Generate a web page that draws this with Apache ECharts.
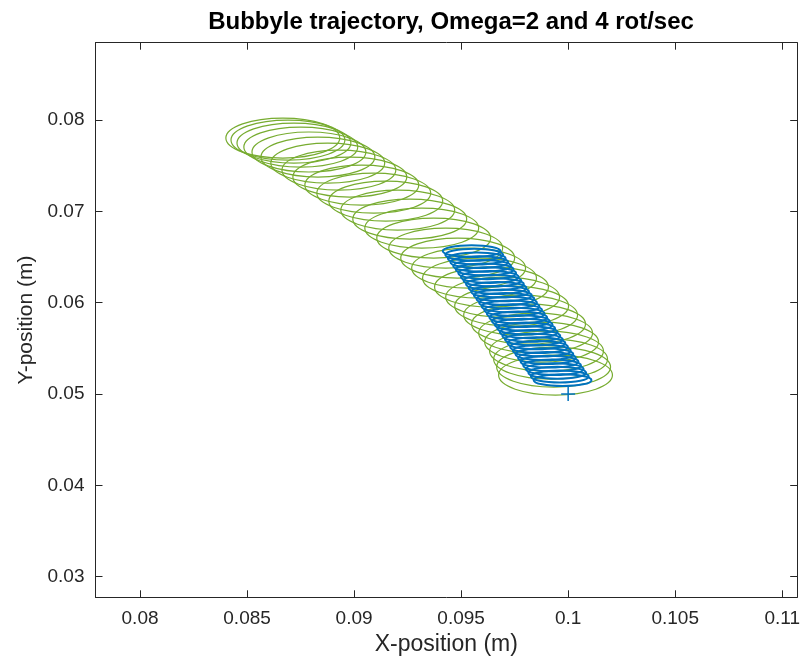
<!DOCTYPE html>
<html>
<head>
<meta charset="utf-8">
<script src="https://cdn.jsdelivr.net/npm/echarts@6/dist/echarts.min.js"></script>
<style>
  html, body { margin: 0; padding: 0; background: #ffffff; }
  #chart { width: 803px; height: 664px; }
</style>
</head>
<body>
<div id="chart"></div>
<script>
const titleText = 'Bubbyle trajectory, Omega=2 and 4 rot/sec';
const xName = 'X-position (m)';
const yName = 'Y-position (m)';

const xTicks = [0.08, 0.085, 0.09, 0.095, 0.1, 0.105, 0.11];
const yTicks = [0.03, 0.04, 0.05, 0.06, 0.07, 0.08];
const xLimits = [0.07792, 0.1107];
const yLimits = [0.02774, 0.08847];

// Omega = 2 rot/sec: centre of each loop (m), from the release point outwards
const greenX = [0.09941, 0.09932, 0.09918, 0.09899, 0.09876, 0.09848, 0.09815, 0.09778,
  0.09736, 0.09694, 0.09642, 0.09586, 0.09535, 0.09484, 0.09428, 0.09372, 0.09316,
  0.09260, 0.09204, 0.09148, 0.09092, 0.09036, 0.08980, 0.08929, 0.08877, 0.08831,
  0.08789, 0.08751, 0.08719, 0.08691, 0.08667];
const greenY = [0.05207, 0.05295, 0.05382, 0.05470, 0.05569, 0.05667, 0.05766, 0.05864,
  0.05963, 0.06061, 0.06171, 0.06269, 0.06379, 0.06489, 0.06598, 0.06708, 0.06817,
  0.06916, 0.07014, 0.07113, 0.07200, 0.07288, 0.07376, 0.07452, 0.07529, 0.07595,
  0.07650, 0.07704, 0.07748, 0.07781, 0.07803];
// half-width and half-height of one loop (m)
const greenLoop = [0.00266, 0.00219];

// Omega = 4 rot/sec: centre of each loop (m)
const blueX = [0.09974, 0.09961, 0.09949, 0.09937, 0.09925, 0.09913, 0.09901, 0.09889,
  0.09877, 0.09864, 0.09852, 0.09840, 0.09828, 0.09816, 0.09804, 0.09792, 0.09779,
  0.09767, 0.09755, 0.09743, 0.09731, 0.09719, 0.09707, 0.09695, 0.09682, 0.09670,
  0.09658, 0.09646, 0.09634, 0.09622, 0.09610, 0.09598, 0.09585, 0.09573, 0.09561, 0.09549];
const blueY = [0.05152, 0.05192, 0.05233, 0.05273, 0.05313, 0.05354, 0.05394, 0.05435,
  0.05475, 0.05515, 0.05556, 0.05596, 0.05636, 0.05677, 0.05717, 0.05758, 0.05798,
  0.05838, 0.05879, 0.05919, 0.05959, 0.06000, 0.06040, 0.06080, 0.06121, 0.06161,
  0.06202, 0.06242, 0.06282, 0.06323, 0.06363, 0.06403, 0.06444, 0.06484, 0.06525, 0.06565];
const blueLoop = [0.00135, 0.00065];

// release point of the bubble
const startX = [0.1];
const startY = [0.05];

const GREEN = '#77AC30';
const BLUE = '#0072BD';
const INK = '#262626';
const FONT = '"Liberation Sans", Arial, Helvetica, sans-serif';

function loops(xs, ys, size) {
  return xs.map((x, i) => [x, ys[i], size[0], size[1]]);
}

// each loop is an ellipse sized in metres, drawn through both axis scales
function loopRenderer(color, width) {
  return function (params, api) {
    const c = api.coord([api.value(0), api.value(1)]);
    const s = api.size([api.value(2), api.value(3)]);
    return {
      type: 'ellipse',
      shape: { cx: c[0], cy: c[1], rx: s[0], ry: s[1] },
      style: { fill: null, stroke: color, lineWidth: width }
    };
  };
}

function plusRenderer(params, api) {
  const c = api.coord([api.value(0), api.value(1)]);
  const h = 7;
  const st = { stroke: BLUE, lineWidth: 1.5 };
  return {
    type: 'group',
    children: [
      { type: 'line', shape: { x1: c[0] - h, y1: c[1], x2: c[0] + h, y2: c[1] }, style: st },
      { type: 'line', shape: { x1: c[0], y1: c[1] - h, x2: c[0], y2: c[1] + h }, style: st }
    ]
  };
}

const fmt = v => String(+(+v).toFixed(4));

function xAxisDef(pos, labelled) {
  return {
    type: 'value', position: pos, min: xLimits[0], max: xLimits[1],
    axisLine: { show: true, onZero: false, lineStyle: { color: INK, width: 1 } },
    axisTick: { show: true, inside: true, length: 7, customValues: xTicks, lineStyle: { color: INK } },
    axisLabel: { show: labelled, customValues: xTicks, formatter: fmt, color: INK, fontSize: 19, fontFamily: FONT, margin: 12 },
    splitLine: { show: false },
    name: labelled ? xName : '', nameLocation: 'middle', nameGap: 35,
    nameTextStyle: { color: INK, fontSize: 23, fontFamily: FONT }
  };
}
function yAxisDef(pos, labelled) {
  return {
    type: 'value', position: pos, min: yLimits[0], max: yLimits[1],
    axisLine: { show: true, onZero: false, lineStyle: { color: INK, width: 1 } },
    axisTick: { show: true, inside: true, length: 7, customValues: yTicks, lineStyle: { color: INK } },
    axisLabel: { show: labelled, customValues: yTicks, formatter: fmt, color: INK, fontSize: 19, fontFamily: FONT, margin: 11 },
    splitLine: { show: false },
    name: labelled ? yName : '', nameLocation: 'middle', nameGap: 58, nameRotate: 90,
    nameTextStyle: { color: INK, fontSize: 21, fontFamily: FONT }
  };
}

const chart = echarts.init(document.getElementById('chart'), null, { renderer: 'canvas' });
chart.setOption({
  backgroundColor: '#ffffff',
  animation: false,
  title: {
    text: titleText, left: 446, top: 5, textAlign: 'center',
    textStyle: { color: '#000000', fontSize: 24, fontWeight: 'bold', fontFamily: FONT }
  },
  grid: { left: 95.5, top: 42.7, right: 5, bottom: 66.7, containLabel: false },
  xAxis: [xAxisDef('bottom', true), xAxisDef('top', false)],
  yAxis: [yAxisDef('left', true), yAxisDef('right', false)],
  series: [
    { type: 'custom', name: 'Omega 2', renderItem: loopRenderer(GREEN, 1.2), data: loops(greenX, greenY, greenLoop), xAxisIndex: 0, yAxisIndex: 0 },
    { type: 'custom', name: 'Omega 4', renderItem: loopRenderer(BLUE, 2), data: loops(blueX, blueY, blueLoop), xAxisIndex: 0, yAxisIndex: 0 },
    { type: 'custom', name: 'start', renderItem: plusRenderer, data: startX.map((x, i) => [x, startY[i]]), xAxisIndex: 0, yAxisIndex: 0 }
  ]
});
</script>
</body>
</html>
